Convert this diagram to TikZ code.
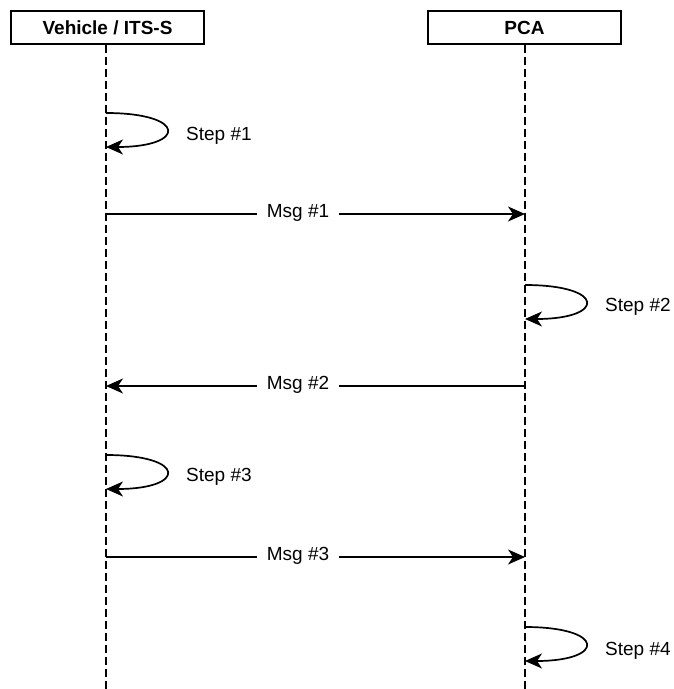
\documentclass[tikz,border=0pt]{standalone}
\usepackage{fontspec}
\setmainfont{Liberation Sans}
\usetikzlibrary{arrows.meta}
\begin{document}
\begin{tikzpicture}[x=1pt,y=-1pt,
  actor/.style={draw,line width=1.4pt,minimum width=193pt,minimum height=33pt,inner sep=0pt,font=\fontsize{19}{23}\selectfont\bfseries},
  lifeline/.style={line width=1.4pt,dash pattern=on 8pt off 4pt},
  msg/.style={line width=1.7pt,-{Stealth[length=17pt,width=15pt,inset=5pt]}},
  lbl/.style={font=\fontsize{19}{23}\selectfont,fill=white,inner xsep=10pt,inner ysep=2pt},
  steplbl/.style={font=\fontsize{19}{23}\selectfont,anchor=west,inner sep=0pt}]
\useasboundingbox (0,0) rectangle (674,689);
\node[actor] (veh) at (107.5,27.5) {Vehicle / ITS-S};
\node[actor] (pca) at (524.5,27.5) {PCA};
\coordinate (vend) at (106,689);
\coordinate (pend) at (525,689);
\draw[lifeline] (veh.south -| vend) -- (vend);
\draw[lifeline] (pca.south -| pend) -- (pend);
% Step 1
\coordinate (s1a) at (106,113); \coordinate (s1b) at (106,147);
\draw[msg] (s1a) .. controls (187,113) and (187,147) .. (s1b);
\node[steplbl] (s1) at (186,136) {Step \#1};
% Msg 1
\coordinate (m1a) at (106,214); \coordinate (m1b) at (525,214);
\draw[msg] (m1a) -- (m1b);
\node[lbl] (m1) at (298,213) {Msg \#1};
% Step 2
\coordinate (s2a) at (525,285); \coordinate (s2b) at (525,319);
\draw[msg] (s2a) .. controls (606,285) and (606,319) .. (s2b);
\node[steplbl] (s2) at (605,307) {Step \#2};
% Msg 2
\coordinate (m2a) at (525,386); \coordinate (m2b) at (106,386);
\draw[msg] (m2a) -- (m2b);
\node[lbl] (m2) at (298,385) {Msg \#2};
% Step 3
\coordinate (s3a) at (106,455); \coordinate (s3b) at (106,489);
\draw[msg] (s3a) .. controls (187,455) and (187,489) .. (s3b);
\node[steplbl] (s3) at (186,477) {Step \#3};
% Msg 3
\coordinate (m3a) at (106,557); \coordinate (m3b) at (525,557);
\draw[msg] (m3a) -- (m3b);
\node[lbl] (m3) at (298,556) {Msg \#3};
% Step 4
\coordinate (s4a) at (525,627); \coordinate (s4b) at (525,661);
\draw[msg] (s4a) .. controls (606,627) and (606,661) .. (s4b);
\node[steplbl] (s4) at (605,651) {Step \#4};
\end{tikzpicture}
\end{document}
